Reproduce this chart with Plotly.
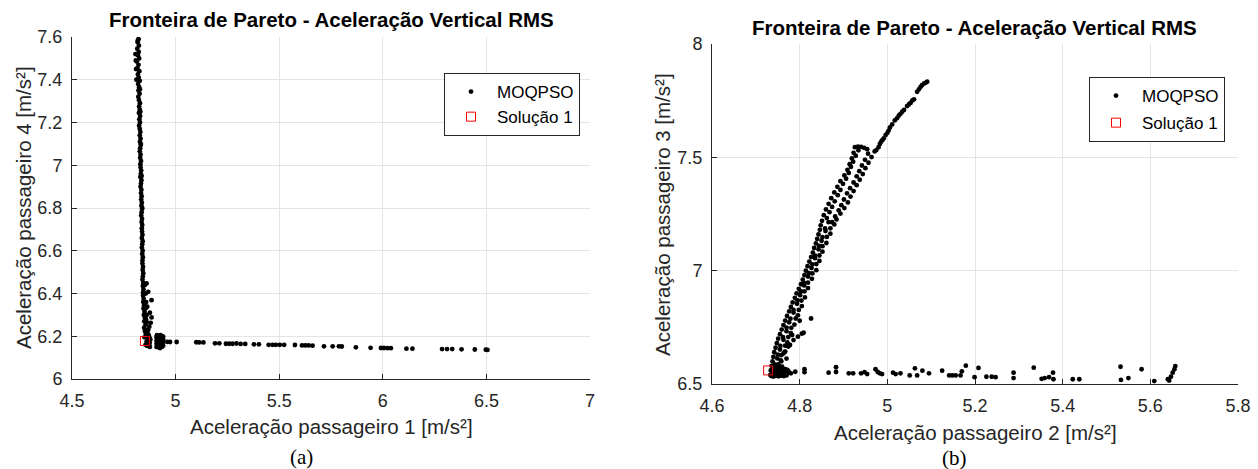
import plotly.graph_objects as go

W, H = 1258, 469
FONT = "Liberation Sans, Arial, Helvetica, sans-serif"
SERIF = "Liberation Serif, Times New Roman, serif"
AX = "#262626"

# ---------------- LEFT CHART: passageiro 1 vs passageiro 4 ----------------
left_band_y = [7.590, 7.575, 7.560, 7.545, 7.530, 7.515, 7.500, 7.485, 7.470, 7.455,
               7.440, 7.425, 7.410, 7.395, 7.380, 7.365, 7.350, 7.335, 7.320, 7.305,
               7.290, 7.275, 7.260, 7.245, 7.230, 7.215, 7.200, 7.185, 7.170, 7.155,
               7.140, 7.125, 7.110, 7.095, 7.080, 7.065, 7.050, 7.035, 7.020, 7.005,
               6.990, 6.975, 6.960, 6.945, 6.930, 6.915, 6.900, 6.885, 6.870, 6.855,
               6.840, 6.825, 6.810, 6.795, 6.780, 6.765, 6.750, 6.735, 6.720, 6.705,
               6.690, 6.675, 6.660, 6.645, 6.630, 6.615, 6.600, 6.585, 6.570, 6.555,
               6.540, 6.525, 6.510, 6.495, 6.480, 6.465, 6.450, 6.435, 6.420, 6.405,
               6.390, 6.375, 6.360, 6.345, 6.330, 6.315, 6.300, 6.285, 6.270, 6.255,
               7.490, 7.450, 7.400, 7.520, 7.582, 7.355, 7.250, 7.100, 6.950, 6.800]
left_band_x = [4.821, 4.817, 4.823, 4.815, 4.822, 4.818, 4.824, 4.813, 4.821, 4.816,
               4.825, 4.818, 4.822, 4.827, 4.819, 4.824, 4.821, 4.826, 4.820, 4.823,
               4.828, 4.824, 4.827, 4.823, 4.829, 4.825, 4.828, 4.824, 4.827, 4.830,
               4.827, 4.831, 4.828, 4.832, 4.829, 4.827, 4.831, 4.829, 4.833, 4.830,
               4.831, 4.834, 4.832, 4.830, 4.835, 4.833, 4.831, 4.835, 4.833, 4.836,
               4.834, 4.837, 4.835, 4.838, 4.836, 4.834, 4.838, 4.836, 4.839, 4.837,
               4.838, 4.840, 4.837, 4.841, 4.839, 4.837, 4.841, 4.839, 4.842, 4.840,
               4.840, 4.843, 4.841, 4.844, 4.842, 4.840, 4.844, 4.842, 4.845, 4.843,
               4.843, 4.846, 4.844, 4.848, 4.845, 4.850, 4.847, 4.852, 4.849, 4.855,
               4.808, 4.809, 4.811, 4.806, 4.817, 4.828, 4.830, 4.832, 4.836, 4.839]

left_fan_x = [4.852, 4.856, 4.858, 4.855, 4.860, 4.857, 4.862, 4.850, 4.853,
              4.860, 4.868, 4.884, 4.863, 4.876, 4.884, 4.880, 4.873, 4.868]
left_fan_y = [6.440, 6.400, 6.360, 6.330, 6.300, 6.280, 6.265, 6.350, 6.290,
              6.447, 6.408, 6.369, 6.338, 6.310, 6.288, 6.263, 6.245, 6.230]

left_knee_x = [4.848, 4.852, 4.856, 4.860, 4.865, 4.870, 4.868, 4.872, 4.862, 4.855,
               4.875, 4.873, 4.866, 4.858, 4.850, 4.860, 4.876, 4.870, 4.878, 4.864,
               4.908, 4.908, 4.908, 4.908, 4.910, 4.917, 4.917, 4.925, 4.925, 4.925,
               4.925, 4.927, 4.934, 4.934, 4.940, 4.940, 4.940, 4.940, 4.915, 4.932,
               4.912, 4.937]
left_knee_y = [6.240, 6.225, 6.212, 6.200, 6.190, 6.180, 6.165, 6.158, 6.155, 6.160,
               6.170, 6.195, 6.210, 6.230, 6.195, 6.175, 6.150, 6.205, 6.185, 6.222,
               6.150, 6.165, 6.180, 6.195, 6.205, 6.148, 6.200, 6.145, 6.160, 6.175,
               6.190, 6.205, 6.150, 6.200, 6.155, 6.170, 6.185, 6.198, 6.175, 6.175,
               6.160, 6.162]

left_tail_x = [4.960, 4.973, 5.005, 5.100, 5.114, 5.134, 5.190, 5.211, 5.243, 5.259,
               5.275, 5.294, 5.314, 5.336, 5.378, 5.402, 5.449, 5.468, 5.484, 5.503,
               5.524, 5.576, 5.610, 5.626, 5.642, 5.661, 5.716, 5.758, 5.788, 5.802,
               5.870, 5.941, 5.991, 6.006, 6.023, 6.039, 6.114, 6.143, 6.286, 6.310,
               6.335, 6.380, 6.444, 6.497, 6.505]
left_tail_y = [6.174, 6.173, 6.173, 6.172, 6.171, 6.171, 6.167, 6.167, 6.165, 6.165,
               6.165, 6.166, 6.164, 6.164, 6.162, 6.162, 6.160, 6.160, 6.160, 6.160,
               6.160, 6.159, 6.157, 6.157, 6.157, 6.156, 6.153, 6.153, 6.153, 6.152,
               6.148, 6.146, 6.145, 6.145, 6.144, 6.144, 6.142, 6.142, 6.140, 6.140,
               6.140, 6.139, 6.138, 6.137, 6.136]

left_sol_x = [4.852]
left_sol_y = [6.178]

left_xticks = [4.5, 5, 5.5, 6, 6.5, 7]
left_yticks = [6, 6.2, 6.4, 6.6, 6.8, 7, 7.2, 7.4, 7.6]

# ---------------- RIGHT CHART: passageiro 2 vs passageiro 3 ----------------
r_low_y1 = [6.540, 6.560, 6.580, 6.600, 6.620, 6.640, 6.660, 6.680, 6.700, 6.720,
            6.740, 6.760, 6.780, 6.800, 6.820, 6.840, 6.860, 6.880, 6.900, 6.920,
            6.940, 6.960, 6.980, 7.000, 7.020, 7.040, 7.060, 7.080, 7.100, 7.120,
            7.140, 7.160, 7.180, 7.200]
r_low_xl = [4.733, 4.734, 4.736, 4.738, 4.740, 4.742, 4.745, 4.748, 4.751, 4.755,
            4.759, 4.763, 4.767, 4.771, 4.776, 4.780, 4.784, 4.789, 4.793, 4.798,
            4.803, 4.807, 4.811, 4.814, 4.818, 4.822, 4.826, 4.830, 4.833, 4.837,
            4.840, 4.843, 4.846, 4.848]
r_low_y2 = [6.551, 6.574, 6.586, 6.613, 6.630, 6.652, 6.668, 6.695, 6.707, 6.733,
            6.749, 6.772, 6.788, 6.815, 6.827, 6.854, 6.869, 6.892, 6.908, 6.935,
            6.946, 6.974, 6.989, 7.012, 7.028, 7.055, 7.066, 7.094, 7.109, 7.132,
            7.148, 7.175, 7.186, 7.214]
r_low_xm = [4.738, 4.743, 4.743, 4.749, 4.750, 4.755, 4.756, 4.763, 4.762, 4.770,
            4.770, 4.776, 4.779, 4.786, 4.786, 4.794, 4.795, 4.801, 4.803, 4.810,
            4.810, 4.819, 4.821, 4.827, 4.829, 4.835, 4.835, 4.843, 4.844, 4.850,
            4.852, 4.859, 4.858, 4.866]
r_low_y3 = [6.546, 6.563, 6.587, 6.604, 6.627, 6.642, 6.669, 6.683, 6.707, 6.724,
            6.748, 6.762, 6.789, 6.803, 6.827, 6.844, 6.868, 6.882, 6.909, 6.923,
            6.947, 6.964, 6.988, 7.002, 7.029, 7.043, 7.067, 7.084, 7.108, 7.122,
            7.149, 7.163, 7.187, 7.204]
r_low_xr = [4.742, 4.749, 4.751, 4.757, 4.758, 4.766, 4.767, 4.772, 4.774, 4.780,
            4.781, 4.788, 4.791, 4.796, 4.798, 4.805, 4.804, 4.812, 4.811, 4.819,
            4.819, 4.828, 4.829, 4.838, 4.838, 4.845, 4.845, 4.852, 4.852, 4.861,
            4.862, 4.870, 4.870, 4.879]

r_wide_y1 = [7.220, 7.245, 7.270, 7.295, 7.320, 7.345, 7.370, 7.395, 7.420, 7.445, 7.470, 7.495, 7.520]
r_wide_x1 = [4.851, 4.855, 4.860, 4.866, 4.872, 4.879, 4.886, 4.893, 4.902, 4.909, 4.914, 4.919, 4.923]
r_wide_y2 = [7.232, 7.258, 7.281, 7.306, 7.333, 7.356, 7.383, 7.406, 7.431, 7.458, 7.481, 7.507, 7.531]
r_wide_x2 = [4.862, 4.868, 4.874, 4.880, 4.887, 4.893, 4.899, 4.906, 4.912, 4.917, 4.922, 4.928, 4.934]
r_wide_y3 = [7.214, 7.239, 7.266, 7.289, 7.314, 7.341, 7.364, 7.389, 7.416, 7.439, 7.464, 7.489, 7.516]
r_wide_x3 = [4.874, 4.881, 4.889, 4.895, 4.901, 4.908, 4.915, 4.923, 4.930, 4.936, 4.942, 4.949, 4.956]
r_wide_y4 = [7.226, 7.252, 7.276, 7.301, 7.327, 7.351, 7.377, 7.401, 7.426, 7.452, 7.476, 7.501, 7.526]
r_wide_x4 = [4.884, 4.893, 4.902, 4.910, 4.916, 4.923, 4.930, 4.937, 4.944, 4.950, 4.957, 4.964, 4.971]

r_hook_x = [4.926, 4.933, 4.940, 4.947, 4.954, 4.975, 4.980]
r_hook_y = [7.545, 7.547, 7.546, 7.542, 7.536, 7.532, 7.545]

r_top_x = [4.983, 4.986, 4.989, 4.992, 4.996, 5.000, 5.003, 5.006, 5.011, 5.017,
           5.022, 5.026, 5.030, 5.034, 5.038, 5.045, 5.049, 5.053, 5.057, 5.061,
           5.068, 5.072, 5.076, 5.079, 5.084, 5.088, 5.091]
r_top_y = [7.559, 7.569, 7.577, 7.584, 7.598, 7.607, 7.618, 7.632, 7.645, 7.663,
           7.672, 7.684, 7.692, 7.701, 7.709, 7.726, 7.733, 7.740, 7.751, 7.756,
           7.789, 7.800, 7.811, 7.818, 7.826, 7.830, 7.834]

r_out_x = [4.800, 4.826, 4.809, 4.805, 4.796, 4.786, 4.783, 4.774, 4.778, 4.767, 4.763, 4.770, 4.758]
r_out_y = [6.779, 6.789, 6.726, 6.722, 6.709, 6.694, 6.716, 6.665, 6.672, 6.643, 6.635, 6.612, 6.600]

r_clu_x = [4.735, 4.740, 4.746, 4.752, 4.758, 4.764, 4.770, 4.738, 4.744, 4.750, 4.756, 4.762,
           4.768, 4.773, 4.736, 4.742, 4.748, 4.755, 4.761, 4.767, 4.772, 4.745, 4.752, 4.760]
r_clu_y = [6.535, 6.533, 6.536, 6.534, 6.537, 6.535, 6.538, 6.548, 6.550, 6.547, 6.551, 6.549,
           6.552, 6.550, 6.562, 6.564, 6.561, 6.565, 6.563, 6.566, 6.562, 6.578, 6.580, 6.576]

r_bot_x = [4.775, 4.780, 4.790, 4.811, 4.811, 4.866, 4.883, 4.883, 4.912, 4.922, 4.940, 4.948,
           4.954, 4.973, 4.978, 4.983, 4.988, 5.013, 5.019, 5.030, 5.051, 5.063, 5.068, 5.080,
           5.095, 5.125, 5.141, 5.148, 5.156, 5.167, 5.170, 5.179, 5.199, 5.208, 5.226, 5.238,
           5.247, 5.288, 5.288, 5.334, 5.352, 5.359, 5.369, 5.378, 5.379, 5.423, 5.438, 5.532,
           5.533, 5.550, 5.580, 5.609, 5.640, 5.643, 5.647, 5.651, 5.655, 5.657]
r_bot_y = [6.554, 6.547, 6.554, 6.565, 6.552, 6.550, 6.574, 6.553, 6.547, 6.547, 6.547, 6.552,
           6.544, 6.565, 6.553, 6.547, 6.544, 6.550, 6.544, 6.547, 6.538, 6.569, 6.538, 6.559,
           6.547, 6.559, 6.538, 6.538, 6.538, 6.538, 6.556, 6.581, 6.530, 6.571, 6.532, 6.532,
           6.530, 6.550, 6.526, 6.572, 6.523, 6.526, 6.530, 6.550, 6.521, 6.521, 6.521, 6.576,
           6.518, 6.526, 6.565, 6.513, 6.521, 6.515, 6.532, 6.550, 6.565, 6.579]

right_sol_x = [4.728]
right_sol_y = [6.560]

right_xticks = [4.6, 4.8, 5, 5.2, 5.4, 5.6, 5.8]
right_yticks = [6.5, 7, 7.5, 8]

series_names = ["MOQPSO", "Solução 1"]
titles = ["Fronteira de Pareto - Aceleração Vertical RMS",
          "Fronteira de Pareto - Aceleração Vertical RMS"]
xlabels = ["Aceleração passageiro 1 [m/s²]", "Aceleração passageiro 2 [m/s²]"]
ylabels = ["Aceleração passageiro 4 [m/s²]", "Aceleração passageiro 3 [m/s²]"]
captions = ["(a)", "(b)"]

# ---------------- build ----------------
lx = left_band_x + left_fan_x + left_knee_x + left_tail_x
ly = left_band_y + left_fan_y + left_knee_y + left_tail_y
rx = (r_low_xl + r_low_xm + r_low_xr + r_wide_x1 + r_wide_x2 + r_wide_x3 + r_wide_x4
      + r_hook_x + r_top_x + r_out_x + r_clu_x + r_bot_x)
ry = (r_low_y1 + r_low_y2 + r_low_y3 + r_wide_y1 + r_wide_y2 + r_wide_y3 + r_wide_y4
      + r_hook_y + r_top_y + r_out_y + r_clu_y + r_bot_y)

dot = dict(color="black", size=4.8)
sq = dict(symbol="square-open", color="red", size=9, line=dict(color="red", width=1))

fig = go.Figure()
fig.add_trace(go.Scatter(x=lx, y=ly, mode="markers", marker=dot, name=series_names[0],
                         xaxis="x", yaxis="y", legend="legend", legendgroup="a1"))
fig.add_trace(go.Scatter(x=left_sol_x, y=left_sol_y, mode="markers", marker=sq, name=series_names[1],
                         xaxis="x", yaxis="y", legend="legend", legendgroup="a2"))
fig.add_trace(go.Scatter(x=rx, y=ry, mode="markers", marker=dot, name=series_names[0],
                         xaxis="x2", yaxis="y2", legend="legend2", legendgroup="b1"))
fig.add_trace(go.Scatter(x=right_sol_x, y=right_sol_y, mode="markers", marker=sq, name=series_names[1],
                         xaxis="x2", yaxis="y2", legend="legend2", legendgroup="b2"))


def px(v):
    return v / W


def py(v):
    return 1 - v / H


def axis(rng, ticks, domain, anchor):
    return dict(range=rng, tickvals=ticks, domain=domain, anchor=anchor,
                showgrid=True, gridcolor="#e4e4e4", gridwidth=1, zeroline=False,
                showline=True, linecolor=AX, linewidth=1, mirror=False,
                ticks="inside", ticklen=5, tickcolor=AX, tickwidth=1,
                tickfont=dict(family=FONT, size=18, color=AX),
                ticklabelstandoff=5, automargin=False, fixedrange=True)


legend_common = dict(bordercolor=AX, borderwidth=1, bgcolor="white",
                     font=dict(family=FONT, size=17, color="black"),
                     xanchor="left", yanchor="top", traceorder="grouped",
                     itemwidth=42)

fig.update_layout(
    width=W, height=H, margin=dict(l=0, r=0, t=0, b=0),
    paper_bgcolor="white", plot_bgcolor="white",
    font=dict(family=FONT, color=AX),
    xaxis=axis([4.5, 7], left_xticks, [px(72), px(590)], "y"),
    yaxis=axis([6, 7.6], left_yticks, [py(379), py(37)], "x"),
    xaxis2=axis([4.6, 5.8], right_xticks, [px(712), px(1238)], "y2"),
    yaxis2=axis([6.5, 8], right_yticks, [py(384), py(44)], "x2"),
    legend=dict(x=px(444), y=py(73), tracegroupgap=0, **legend_common),
    legend2=dict(x=px(1089), y=py(77), tracegroupgap=2, **legend_common),
    showlegend=True,
)

ann = []
# titles
ann.append(dict(text="<b>" + titles[0] + "</b>", x=px(331), y=py(20)))
ann.append(dict(text="<b>" + titles[1] + "</b>", x=px(974), y=py(27)))
for a in ann:
    a.update(font=dict(family=FONT, size=20.5, color="black"))
# axis titles
ann.append(dict(text=xlabels[0], x=px(331), y=py(426), font=dict(family=FONT, size=20.5, color=AX)))
ann.append(dict(text=xlabels[1], x=px(975), y=py(432), font=dict(family=FONT, size=20.5, color=AX)))
ann.append(dict(text=ylabels[0], x=px(23), y=py(208), textangle=-90, font=dict(family=FONT, size=20.5, color=AX)))
ann.append(dict(text=ylabels[1], x=px(663), y=py(214), textangle=-90, font=dict(family=FONT, size=20.5, color=AX)))
# captions
ann.append(dict(text=captions[0], x=px(301), y=py(457), font=dict(family=SERIF, size=21, color="black")))
ann.append(dict(text=captions[1], x=px(954), y=py(458), font=dict(family=SERIF, size=21, color="black")))
for a in ann:
    a.update(xref="paper", yref="paper", showarrow=False, xanchor="center", yanchor="middle")
fig.update_layout(annotations=ann)

fig.write_html("out.html",
               config={"displayModeBar": False},
               post_script="document.body.style.margin='0';document.body.style.overflow='hidden';")
